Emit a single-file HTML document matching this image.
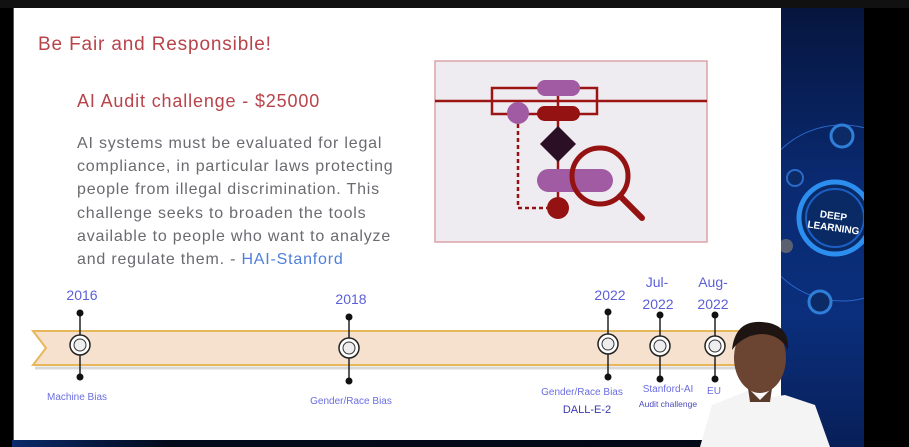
<!DOCTYPE html>
<html><head><meta charset="utf-8"><style>
*{margin:0;padding:0}
body{width:909px;height:447px;overflow:hidden;background:#000;position:relative;font-family:"Liberation Sans",sans-serif}
.a{position:absolute;white-space:nowrap}
.b{color:#5b5fd8;font-size:14px;transform:translateX(-50%)}
.s{color:#6a6ee0;font-size:10px;transform:translateX(-50%)}
</style></head><body>
<div class="a" style="left:12px;top:440px;width:780px;height:7px;background:linear-gradient(90deg,#0b2a6a,#030a1c 20%,#020814)"></div>
<div class="a" style="left:780px;top:8px;width:84px;height:439px;background:linear-gradient(180deg,#06153d,#0a2a72 40%,#0b2f7c 70%,#081f58)"></div>
<svg class="a" style="left:780px;top:8px" width="84" height="439">
<circle cx="62" cy="205" r="88" fill="none" stroke="#2a66c8" stroke-width="1"/>
<circle cx="55" cy="210" r="36" fill="#0a2a66" stroke="#2c8ff0" stroke-width="5"/>
<circle cx="55" cy="210" r="29" fill="none" stroke="#1c5fc4" stroke-width="2"/>
<circle cx="62" cy="128" r="11" fill="#0c2a66" stroke="#2f7fd8" stroke-width="3"/>
<circle cx="15" cy="170" r="8" fill="#0c2a66" stroke="#2a6ac8" stroke-width="2"/>
<circle cx="6" cy="238" r="7" fill="#5a6070"/>
<circle cx="40" cy="294" r="11" fill="#0c2a66" stroke="#2f7fd8" stroke-width="3"/>
<text x="53" y="211" fill="#fff" font-size="10" font-weight="bold" font-family="Liberation Sans" transform="rotate(8 53 211)" text-anchor="middle">DEEP</text>
<text x="53" y="223" fill="#fff" font-size="10" font-weight="bold" font-family="Liberation Sans" transform="rotate(8 53 223)" text-anchor="middle">LEARNING</text>
</svg>
<div class="a" style="left:13px;top:8px;width:767px;height:432px;background:#fff;border-left:1px solid #3a5aa0"></div>
<div class="a" style="left:38px;top:34px;color:#b8434a;font-size:19px;letter-spacing:0.85px">Be Fair and Responsible!</div>
<div class="a" style="left:77px;top:91px;color:#b8434a;font-size:18px;letter-spacing:0.85px">AI Audit challenge - $25000</div>
<div class="a" style="left:77px;top:132px;color:#6a6a70;font-size:16px;line-height:23.2px;letter-spacing:0.8px">AI systems must be evaluated for legal<br>compliance, in particular laws protecting<br>people from illegal discrimination. This<br>challenge seeks to broaden the tools<br>available to people who want to analyze<br>and regulate them. - <span style="color:#4f7fd8">HAI-Stanford</span></div>
<svg class="a" style="left:0;top:0" width="909" height="447">
<rect x="435" y="61" width="272" height="181" fill="#efecf1" stroke="#dba3a8" stroke-width="1.5"/>
<line x1="435" y1="101" x2="707" y2="101" stroke="#9b1515" stroke-width="2.5"/>
<rect x="492" y="88" width="105" height="26" fill="none" stroke="#9b1515" stroke-width="2.5"/>
<line x1="558" y1="95" x2="558" y2="208" stroke="#9b1515" stroke-width="2.5"/>
<rect x="537" y="80" width="43" height="16" rx="8" fill="#a05ba3"/>
<rect x="537" y="106" width="43" height="15" rx="7.5" fill="#951212"/>
<circle cx="518" cy="113" r="11" fill="#a05ba3"/>
<path d="M518 124V208H547" fill="none" stroke="#951212" stroke-width="2.5" stroke-dasharray="4 3"/>
<path d="M558 126L576 144L558 162L540 144Z" fill="#2b0f25"/>
<rect x="537" y="169" width="76" height="23" rx="11.5" fill="#a05ba3"/>
<circle cx="558" cy="208" r="11" fill="#951212"/>
<circle cx="600" cy="176" r="28" fill="none" stroke="#951212" stroke-width="5"/>
<line x1="620" y1="196" x2="642" y2="218" stroke="#951212" stroke-width="6" stroke-linecap="round"/>
<path d="M33 331H780V365H33L46 348Z" fill="#f6e1cf" stroke="#e6b85a" stroke-width="2"/>
<line x1="35" y1="368" x2="780" y2="368" stroke="#d8d8d8" stroke-width="3"/>
<g stroke="#222" stroke-width="1.5">
<line x1="80" y1="313" x2="80" y2="377"/><line x1="349" y1="317" x2="349" y2="381"/>
<line x1="608" y1="312" x2="608" y2="377"/><line x1="660" y1="315" x2="660" y2="379"/><line x1="715" y1="315" x2="715" y2="379"/>
</g>
<g fill="#111">
<circle cx="80" cy="313" r="3.5"/><circle cx="80" cy="377" r="3.5"/>
<circle cx="349" cy="317" r="3.5"/><circle cx="349" cy="381" r="3.5"/>
<circle cx="608" cy="312" r="3.5"/><circle cx="608" cy="377" r="3.5"/>
<circle cx="660" cy="315" r="3.5"/><circle cx="660" cy="379" r="3.5"/>
<circle cx="715" cy="315" r="3.5"/><circle cx="715" cy="379" r="3.5"/>
</g>
<g fill="#fff" stroke="#222" stroke-width="1.5">
<circle cx="80" cy="345" r="10"/><circle cx="349" cy="348" r="10"/><circle cx="608" cy="344" r="10"/><circle cx="660" cy="346" r="10"/><circle cx="715" cy="346" r="10"/>
</g>
<g fill="#eee" stroke="#333" stroke-width="1">
<circle cx="80" cy="345" r="6"/><circle cx="349" cy="348" r="6"/><circle cx="608" cy="344" r="6"/><circle cx="660" cy="346" r="6"/><circle cx="715" cy="346" r="6"/>
</g>
</svg>
<div class="a b" style="left:82px;top:287px">2016</div>
<div class="a b" style="left:351px;top:291px">2018</div>
<div class="a b" style="left:610px;top:287px">2022</div>
<div class="a b" style="left:657px;top:274px">Jul-</div>
<div class="a b" style="left:658px;top:296px">2022</div>
<div class="a b" style="left:713px;top:274px">Aug-</div>
<div class="a b" style="left:713px;top:296px">2022</div>
<div class="a s" style="left:77px;top:392px">Machine Bias</div>
<div class="a s" style="left:351px;top:396px">Gender/Race Bias</div>
<div class="a s" style="left:582px;top:387px">Gender/Race Bias</div>
<div class="a s" style="left:587px;top:404px;color:#3a3ab0;font-size:11px">DALL-E-2</div>
<div class="a s" style="left:668px;top:384px">Stanford-AI</div>
<div class="a s" style="left:668px;top:399px;font-size:8.5px;color:#4a4ac0">Audit challenge</div>
<div class="a s" style="left:714px;top:386px">EU</div>
<svg class="a" style="left:690px;top:310px" width="150" height="137">
<path d="M10 137L22 95L60 80L75 88L95 85L125 95L140 137Z" fill="#f4f4f4"/>
<ellipse cx="70" cy="48" rx="26" ry="35" fill="#6b4432"/>
<path d="M42 40Q45 10 72 12Q100 14 98 40Q90 24 70 24Q52 26 42 40Z" fill="#1e1512"/>
<path d="M58 78L70 90L82 78L80 92L60 92Z" fill="#5a3a2a"/>
</svg>
<div class="a" style="left:0;top:0;width:909px;height:8px;background:#111"></div>
</body></html>
